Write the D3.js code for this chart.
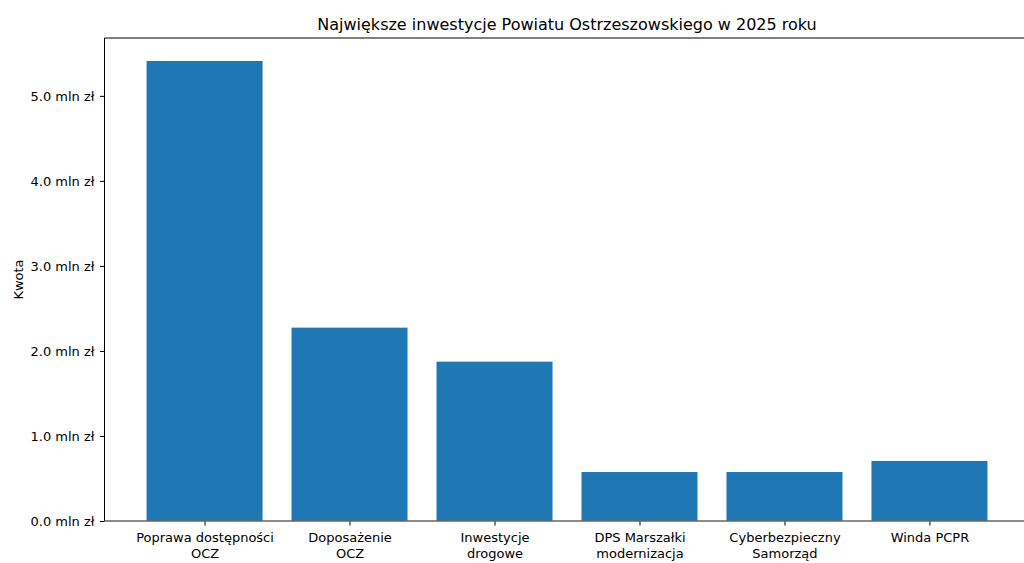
<!DOCTYPE html>
<html><head><meta charset="utf-8">
<script src="https://cdn.jsdelivr.net/npm/d3@7"></script>
<style>body{margin:0;background:#fff}svg{display:block}text{font-family:"DejaVu Sans",sans-serif}</style>
</head><body><svg id="c" width="1024" height="563"></svg>
<script>
const categories = [["Poprawa dostępności","OCZ"],["Doposażenie","OCZ"],["Inwestycje","drogowe"],["DPS Marszałki","modernizacja"],["Cyberbezpieczny","Samorząd"],["Winda PCPR"]];
const values = [5.41, 2.274, 1.874, 0.576, 0.576, 0.706];
const yTicks = [0,1,2,3,4,5];
const title = "Największe inwestycje Powiatu Ostrzeszowskiego w 2025 roku";
const yLabel = "Kwota";

const svg = d3.select("#c");
const L = 104.5, R = 1029.5, T = 38, B = 521;
const n = values.length, bw = 0.8;
const xmin = -bw/2, xmax = n-1+bw/2, xm = (xmax-xmin)*0.05;
const x = d3.scaleLinear().domain([xmin-xm, xmax+xm]).range([L, R]);
const y = d3.scaleLinear().domain([0, d3.max(values)*1.05]).range([B, T]);

svg.selectAll("rect.bar").data(values).join("rect").attr("class","bar")
  .attr("x",(d,i)=>x(i-bw/2)).attr("width",(d,i)=>x(i+bw/2)-x(i-bw/2))
  .attr("y",d=>y(d)).attr("height",d=>y(0)-y(d)).attr("fill","#1f77b4");

// spines
svg.append("line").attr("x1",L).attr("x2",L).attr("y1",T).attr("y2",B).attr("stroke","#000").attr("stroke-width",1);
svg.append("line").attr("x1",L).attr("x2",R).attr("y1",T).attr("y2",T).attr("stroke","#000").attr("stroke-width",1);
svg.append("line").attr("x1",R).attr("x2",R).attr("y1",T).attr("y2",B).attr("stroke","#000").attr("stroke-width",1);

// y axis
const ya = d3.axisLeft(y).tickValues(yTicks).tickSize(4.5).tickPadding(5.5).tickFormat(d=>d3.format(".1f")(d)+" mln zł");
const gy = svg.append("g").attr("transform",`translate(${L},0)`).call(ya);
gy.select(".domain").remove();
gy.selectAll("text").attr("font-size",13).attr("fill","#000").attr("font-family","DejaVu Sans");
gy.selectAll("line").attr("stroke","#000");

// x axis
const xa = d3.axisBottom(x).tickValues(d3.range(n)).tickSize(4.5).tickFormat("");
const gx = svg.append("g").attr("transform",`translate(0,${B})`).call(xa);
gx.select(".domain").remove();
gx.selectAll("line").attr("stroke","#000");
gx.selectAll(".tick").each(function(d,i){
  const t = d3.select(this).append("text").attr("fill","#000").attr("font-size",13)
    .attr("text-anchor","middle").attr("font-family","DejaVu Sans");
  categories[i].forEach((s,j)=>t.append("tspan").attr("x",0).attr("y",21+j*16).text(s));
});

// zero line (grey)
svg.append("line").attr("x1",L).attr("x2",R).attr("y1",B).attr("y2",B).attr("stroke","#666").attr("stroke-width",1.5);

svg.append("text").attr("x",(L+R)/2).attr("y",30).attr("text-anchor","middle").attr("font-size",16).attr("fill","#000").text(title);
svg.append("text").attr("transform",`translate(23,${(T+B)/2}) rotate(-90)`).attr("text-anchor","middle").attr("font-size",13).attr("fill","#000").text(yLabel);
</script></body></html>
